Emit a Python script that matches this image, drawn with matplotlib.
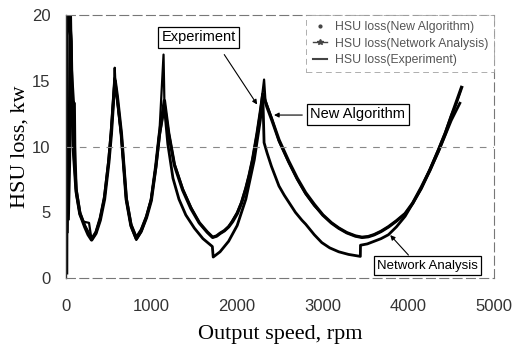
import matplotlib
matplotlib.use('Agg')
import matplotlib.pyplot as plt
from matplotlib.lines import Line2D

# (rpm, kW)
exp_x = [8, 14, 40, 60, 70, 85, 120, 163, 220, 260, 300, 350, 400, 450, 500, 530, 555, 575,
         600, 647, 705, 760, 822, 880, 940, 996, 1050, 1093, 1150,
         1200, 1267, 1364, 1460, 1558, 1650, 1713,
         1760, 1800, 1850, 1900, 1946, 2000, 2050, 2101, 2140, 2180, 2233, 2270, 2300,
         2350, 2407, 2488, 2600, 2700, 2798, 2900, 3000, 3100, 3186, 3280, 3380, 3457,
         3530, 3600, 3680, 3767, 3860, 3961, 4050, 4150, 4250, 4349, 4430, 4500, 4560, 4620]
exp_y = [0.4, 20.0, 20.0, 18.0, 14.0, 10.0, 6.6, 4.9, 3.9, 3.3, 2.9, 3.4, 4.4, 6.0, 8.8, 11.0, 13.5, 15.0,
         13.8, 11.0, 6.0, 4.0, 3.0, 3.6, 4.6, 5.9, 8.5, 11.0, 13.5,
         11.0, 8.6, 6.7, 5.3, 4.2, 3.5, 3.1,
         3.2, 3.4, 3.6, 3.9, 4.3, 4.9, 5.7, 6.8, 7.8, 9.0, 11.0, 12.6, 14.0,
         13.0, 12.0, 10.5, 8.9, 7.6, 6.5, 5.6, 4.8, 4.2, 3.8, 3.45, 3.2, 3.1,
         3.15, 3.3, 3.55, 3.9, 4.35, 4.9, 5.7, 6.9, 8.2, 9.7, 11.0, 12.3, 13.4, 14.5]

new_x = [20, 50, 62, 75, 85, 120, 163, 200, 270, 300, 350, 400, 450, 500, 530, 555, 570,
         580, 600, 647, 705, 760, 822, 880, 940, 996, 1050, 1093, 1140,
         1150, 1200, 1267, 1364, 1460, 1558, 1650, 1713,
         1760, 1800, 1850, 1900, 1946, 2000, 2050, 2101, 2140, 2180, 2233, 2270, 2314,
         2330, 2407, 2488, 2600, 2700, 2798, 2900, 3000, 3100, 3186, 3280, 3380, 3457,
         3530, 3600, 3680, 3767, 3860, 3961, 4050, 4150, 4250, 4349, 4430, 4500, 4560, 4610]
new_y = [3.5, 20.0, 18.0, 13.0, 10.0, 6.4, 4.8, 4.3, 4.2, 2.9, 3.4, 4.5, 6.1, 8.9, 11.2, 13.7, 16.0,
         14.5, 13.6, 10.8, 5.9, 3.9, 2.9, 3.5, 4.6, 6.0, 8.6, 11.2, 17.0,
         13.4, 11.1, 8.7, 6.8, 5.4, 4.2, 3.5, 3.1,
         3.2, 3.4, 3.6, 3.9, 4.4, 5.0, 5.8, 6.9, 7.9, 9.1, 11.1, 12.7, 15.1,
         13.5, 12.1, 10.4, 8.8, 7.5, 6.4, 5.5, 4.8, 4.2, 3.8, 3.45, 3.2, 3.1,
         3.15, 3.3, 3.55, 3.9, 4.35, 4.9, 5.7, 6.9, 8.3, 9.8, 11.1, 12.4, 13.3, 14.3]

net_x = [30, 45, 55, 65, 90, 100, 105, 120, 163, 220, 300, 350, 400, 450, 500, 530, 555, 570,
         600, 647, 705, 760, 822, 880, 940, 996, 1050, 1093, 1150,
         1190, 1250, 1320, 1400, 1500, 1600, 1710, 1720,
         1800, 1900, 2000, 2101, 2200, 2270, 2300, 2314,
         2350, 2400, 2488, 2550, 2600, 2680, 2756, 2800, 2900, 2988, 3080, 3186, 3300, 3438, 3440,
         3520, 3600, 3680, 3767, 3860, 3961, 4150, 4349, 4500, 4600]
net_y = [4.5, 9.0, 20.0, 16.0, 13.3, 13.3, 10.0, 6.8, 5.0, 4.0, 3.0, 3.5, 4.6, 6.2, 9.0, 11.3, 13.6, 15.2,
         13.6, 10.9, 6.1, 4.1, 3.1, 3.7, 4.7, 6.0, 8.4, 10.9, 13.0,
         10.2, 7.6, 6.0, 4.8, 3.8, 3.0, 2.4, 1.6,
         2.0, 2.8, 4.0, 6.0, 9.0, 12.0, 13.8, 10.3,
         9.5, 8.5, 7.0, 6.3, 5.8, 5.0, 4.4, 4.1, 3.3, 2.7, 2.3, 2.0, 1.8, 1.65, 2.5,
         2.6, 2.8, 3.0, 3.3, 3.9, 4.7, 6.8, 9.6, 12.0, 13.3]

xticks = [0, 1000, 2000, 3000, 4000, 5000]
yticks = [0, 5, 10, 15, 20]

fig = plt.figure(figsize=(5.19, 3.52), dpi=100)
ax = fig.add_axes([0.127, 0.21, 0.825, 0.747])

ax.plot(exp_x, exp_y, color='black', lw=2.4, solid_joinstyle='round')
ax.plot(new_x, new_y, color='black', lw=1.6, solid_joinstyle='round')
ax.plot(net_x, net_y, color='black', lw=2.0, solid_joinstyle='round')

ax.set_xlim(0, 5000)
ax.set_ylim(0, 20)
ax.set_xticks(xticks)
ax.set_yticks(yticks)
ax.tick_params(length=0, labelsize=12, colors='#333333')
ax.tick_params(axis='x', pad=15)
ax.tick_params(axis='y', pad=11)
for lab in ax.get_xticklabels() + ax.get_yticklabels():
    lab.set_family('Liberation Sans')

ax.axhline(10, color='#888888', lw=0.8, ls=(0, (6, 6)))
for side in ['top', 'right', 'bottom']:
    ax.spines[side].set_linestyle((0, (8, 4)))
    ax.spines[side].set_color('#777777')
    ax.spines[side].set_linewidth(0.8)
ax.spines['left'].set_color('#333333')
ax.spines['left'].set_linewidth(1.0)

ax.set_xlabel('Output speed, rpm', family='Liberation Serif', fontsize=16, labelpad=8)
ax.set_ylabel('HSU loss, kw', family='Liberation Serif', fontsize=16, labelpad=2)

# legend (custom handles so the marker styles match the original key)
handles = [Line2D([], [], color='#444444', marker='.', ls='none', ms=4),
           Line2D([], [], color='#444444', marker='*', ls='-', lw=1, ms=4),
           Line2D([], [], color='#444444', ls='-', lw=1.5)]
labels = ['HSU loss(New Algorithm)', 'HSU loss(Network Analysis)', 'HSU loss(Experiment)']
leg = ax.legend(handles, labels, loc='upper right', frameon=True, fancybox=False,
                handlelength=1.2, handletextpad=0.6, borderaxespad=0, labelspacing=0.35,
                borderpad=0.5, prop={'family': 'Liberation Sans', 'size': 8.8})
leg.get_frame().set_edgecolor('#999999')
leg.get_frame().set_linestyle((0, (6, 4)))
leg.get_frame().set_linewidth(0.7)
for t in leg.get_texts():
    t.set_color('#555555')

box = dict(boxstyle='square,pad=0.25', fc='white', ec='black', lw=0.9)
arrow = dict(arrowstyle='-|>', color='black', lw=0.8, mutation_scale=7, shrinkA=0, shrinkB=0)

ax.text(1547, 18.3, 'Experiment', ha='center', va='center', fontsize=10.5,
        family='Liberation Sans', bbox=box)
ax.annotate('', xy=(2233, 13.2), xytext=(1849, 17.0), arrowprops=arrow)

ax.text(3407, 12.45, 'New Algorithm', ha='center', va='center', fontsize=10.5,
        family='Liberation Sans', bbox=box)
ax.annotate('', xy=(2430, 12.4), xytext=(2760, 12.4), arrowprops=arrow)

ax.text(4221, 0.95, 'Network Analysis', ha='center', va='center', fontsize=9.5,
        family='Liberation Sans', bbox=box)
ax.annotate('', xy=(3787, 3.27), xytext=(4000, 1.75), arrowprops=arrow)

fig.savefig('out.png', dpi=100)
